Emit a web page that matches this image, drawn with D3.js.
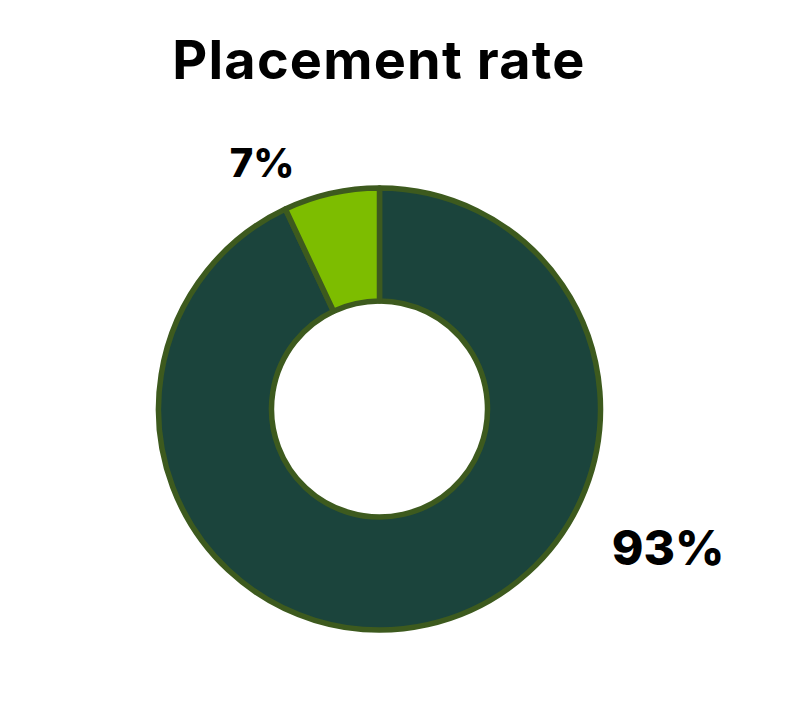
<!DOCTYPE html>
<html><head><meta charset="utf-8">
<script src="https://cdn.jsdelivr.net/npm/d3@7"></script>
<style>html,body{margin:0;padding:0;background:#fff;}</style>
</head><body>
<svg id="chart" width="798" height="711"></svg>
<script>
const categories = ["Placed", "Not placed"];
const values = [93, 7];
const labels = ["93%", "7%"];
const colors = ["#1b443c", "#7dbd00"];

const svg = d3.select("#chart");
const cx = 379.5, cy = 409, rOuter = 221, rInner = 108;

svg.append("text").attr("x", 379).attr("y", 79)
  .attr("text-anchor", "middle")
  .style("font-family", "Inter, 'Open Sans', sans-serif")
  .style("font-weight", 700).style("font-size", "54px")
  .style("letter-spacing", "1.2px").style("fill", "#000")
  .text("Placement rate");

const pie = d3.pie().sort(null).value(d => d)(values);
const arc = d3.arc().innerRadius(rInner).outerRadius(rOuter);
const g = svg.append("g").attr("transform", `translate(${cx},${cy})`);
g.selectAll("path").data(pie).join("path")
  .attr("d", arc)
  .attr("fill", (d, i) => colors[i])
  .attr("stroke", "#3d5a1e").attr("stroke-width", 5.5).attr("stroke-linejoin", "round");

const labelPos = [[668, 565], [262, 177]];
const labelSize = [48, 40];
svg.selectAll("text.lbl").data(labels).join("text").attr("class", "lbl")
  .attr("x", (d, i) => labelPos[i][0]).attr("y", (d, i) => labelPos[i][1])
  .attr("text-anchor", "middle")
  .style("font-family", "Inter, 'Open Sans', sans-serif")
  .style("font-weight", 800).style("font-size", (d, i) => labelSize[i] + "px")
  .style("fill", "#000").text(d => d);
</script>
</body></html>
